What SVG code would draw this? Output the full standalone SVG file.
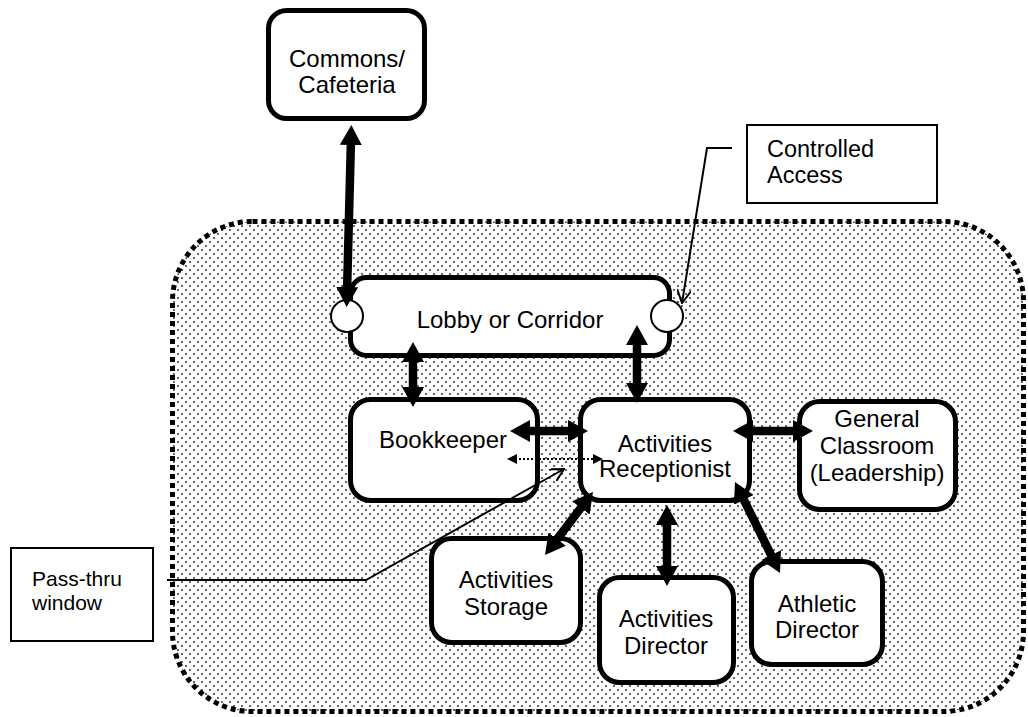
<svg xmlns="http://www.w3.org/2000/svg" width="1028" height="717" viewBox="0 0 1028 717">
  <style>
    .box { fill: #fff; stroke: #000; stroke-width: 5; }
    .note { fill: #fff; stroke: #000; stroke-width: 2; }
    .lbl { font-family: "Liberation Sans", Arial, sans-serif; font-size: 24px; fill: #000; text-anchor: middle; }
    .nt { font-family: "Liberation Sans", Arial, sans-serif; fill: #000; }
    .thick { stroke: #000; stroke-width: 8.5; fill: none; marker-start: url(#head); marker-end: url(#head); }
    .dotted { stroke: #000; stroke-width: 2; stroke-dasharray: 2 2; fill: none; marker-start: url(#small); marker-end: url(#small); }
    .pointer { stroke: #000; stroke-width: 2; fill: none; marker-end: url(#open); }
    .door { fill: #fff; stroke: #000; stroke-width: 2; }
  </style>
  <defs>
    <pattern id="dots" width="8" height="8" patternUnits="userSpaceOnUse">
      <rect width="8" height="8" fill="#fff"/>
      <circle cx="2" cy="2" r="1.1" fill="#444"/>
      <circle cx="6" cy="6" r="1.1" fill="#444"/>
    </pattern>
    <marker id="head" viewBox="0 0 20 22" refX="6" refY="11" markerWidth="20" markerHeight="22" markerUnits="userSpaceOnUse" orient="auto-start-reverse">
      <path d="M0,0 L20,11 L0,22 Z" fill="#000"/>
    </marker>
    <marker id="small" viewBox="0 0 10 10" refX="2" refY="5" markerWidth="10" markerHeight="10" markerUnits="userSpaceOnUse" orient="auto-start-reverse">
      <path d="M0,0 L10,5 L0,10 Z" fill="#000"/>
    </marker>
    <marker id="open" viewBox="0 0 14 14" refX="13" refY="7" markerWidth="14" markerHeight="14" markerUnits="userSpaceOnUse" orient="auto">
      <path d="M0,0 L13,7 L0,14" fill="none" stroke="#000" stroke-width="2"/>
    </marker>
  </defs>

  <!-- office suite zone -->
  <rect id="suite" x="172.5" y="221.5" width="851" height="490" rx="80" ry="80" fill="url(#dots)" stroke="#000" stroke-width="5" stroke-dasharray="5 4"/>

  <g id="commons">
    <rect class="box" x="268.5" y="10.5" width="156" height="108" rx="18"/>
    <text class="lbl" x="347" y="67">Commons/</text>
    <text class="lbl" x="347" y="93">Cafeteria</text>
  </g>

  <g id="lobby">
    <rect class="box" x="350.5" y="277.5" width="319" height="78" rx="16"/>
    <text class="lbl" x="510" y="328">Lobby or Corridor</text>
    <circle class="door" cx="347" cy="316" r="16"/>
    <circle class="door" cx="667" cy="316" r="16"/>
  </g>

  <g id="bookkeeper">
    <rect class="box" x="350.5" y="399.5" width="187" height="101" rx="20"/>
    <text class="lbl" x="443" y="448">Bookkeeper</text>
  </g>

  <g id="receptionist">
    <rect class="box" x="580.5" y="399.5" width="169" height="101" rx="20"/>
    <text class="lbl" x="665" y="452">Activities</text>
    <text class="lbl" x="665" y="477">Receptionist</text>
  </g>

  <g id="classroom">
    <rect class="box" x="799.5" y="401.5" width="156" height="108" rx="20"/>
    <text class="lbl" x="877" y="427">General</text>
    <text class="lbl" x="877" y="454">Classroom</text>
    <text class="lbl" x="877" y="481">(Leadership)</text>
  </g>

  <g id="storage">
    <rect class="box" x="431.5" y="538.5" width="149" height="104" rx="20"/>
    <text class="lbl" x="506" y="588">Activities</text>
    <text class="lbl" x="506" y="615">Storage</text>
  </g>

  <g id="director">
    <rect class="box" x="599.5" y="577.5" width="134" height="105" rx="20"/>
    <text class="lbl" x="666" y="627">Activities</text>
    <text class="lbl" x="666" y="654">Director</text>
  </g>

  <g id="athletic">
    <rect class="box" x="751.5" y="561.5" width="131" height="103" rx="20"/>
    <text class="lbl" x="817" y="612">Athletic</text>
    <text class="lbl" x="817" y="638">Director</text>
  </g>

  <g id="controlled-access">
    <rect class="note" x="747" y="125" width="190" height="78"/>
    <text class="nt" font-size="23.5" x="767" y="157">Controlled</text>
    <text class="nt" font-size="23.5" x="767" y="183">Access</text>
  </g>

  <g id="pass-thru">
    <rect class="note" x="11" y="548" width="142" height="93"/>
    <text class="nt" font-size="21" x="32" y="586">Pass-thru</text>
    <text class="nt" font-size="21" x="32" y="610">window</text>
  </g>

  <g id="connectors">
    <line class="thick" x1="351" y1="139" x2="347" y2="293"/>
    <line class="thick" x1="413" y1="356" x2="413" y2="393"/>
    <line class="thick" x1="637" y1="339" x2="637" y2="389"/>
    <line class="thick" x1="524" y1="431" x2="574" y2="431"/>
    <line class="thick" x1="747" y1="431" x2="799" y2="431"/>
    <line class="thick" x1="584.5" y1="503.1" x2="553.5" y2="543.9"/>
    <line class="thick" x1="667" y1="519" x2="667" y2="572"/>
    <line class="thick" x1="741.2" y1="494.5" x2="773.8" y2="560.5"/>
    <line class="dotted" x1="515" y1="459" x2="595" y2="459"/>
    <polyline class="pointer" points="732,148 707,148 682,303"/>
    <polyline class="pointer" points="167,580 366,580 564,469"/>
  </g>
</svg>
